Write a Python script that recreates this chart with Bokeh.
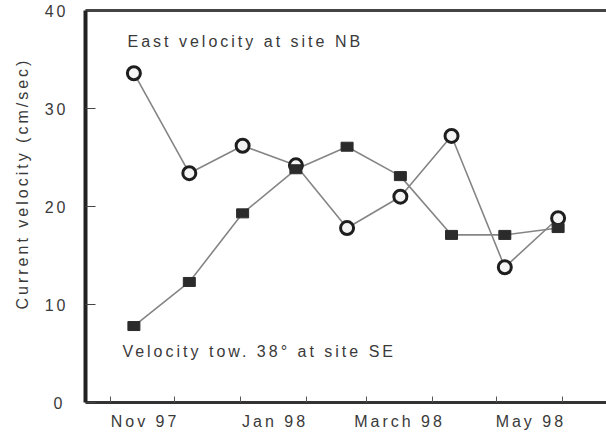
import pandas as pd
from bokeh.plotting import figure
from bokeh.models import FixedTicker, LinearAxis, Label, Range1d, InlineStyleSheet, Title
from bokeh.embed import file_html
from bokeh.resources import INLINE

# ---- data -------------------------------------------------------------
origin = "1997-11-01"
sample_dates = ["1997-11-12", "1997-12-08", "1998-01-02", "1998-01-27", "1998-02-20",
                "1998-03-17", "1998-04-10", "1998-05-05", "1998-05-30"]
east_nb = [33.6, 23.4, 26.2, 24.2, 17.8, 21.0, 27.2, 13.8, 18.8]
tow38_se = [7.8, 12.3, 19.3, 23.8, 26.1, 23.1, 17.1, 17.1, 17.8]

month_starts = ["1997-11-01", "1997-12-01", "1998-01-01", "1998-02-01", "1998-03-01",
                "1998-04-01", "1998-05-01", "1998-06-01"]
label_dates = ["1997-11-13", "1998-01-13", "1998-03-11", "1998-05-13"]
label_texts = ["Nov 97", "Jan 98", "March 98", "May 98"]
y_ticks = [0, 10, 20, 30, 40]


def days(lst):
    o = pd.Timestamp(origin)
    return [float((pd.Timestamp(s) - o).days) for s in lst]


x = days(sample_dates)
minor = days(month_starts)
major = days(label_dates)

FONT = "Liberation Sans"
TXT = "#3a3a3a"

p = figure(width=606, height=432, output_backend="svg", toolbar_location=None,
           x_range=Range1d(-11.7, 232.7), y_range=Range1d(0, 40),
           min_border_left=85, min_border_right=0, min_border_top=10, min_border_bottom=29)
p.stylesheets = [InlineStyleSheet(css=":host { letter-spacing: 3px; }")]
p.outline_line_color = None
p.outline_line_width = 0
p.xgrid.visible = False
p.ygrid.visible = False
p.background_fill_color = "white"
p.border_fill_color = "white"

# x axis
xa = p.xaxis[0]
xa.ticker = FixedTicker(ticks=major, minor_ticks=minor)
xa.major_label_overrides = {v: t for v, t in zip(major, label_texts)}
xa.major_tick_line_color = None
xa.minor_tick_in = 6
xa.minor_tick_out = 0
xa.minor_tick_line_color = "#555555"
xa.minor_tick_line_width = 1
xa.axis_line_width = 3
xa.axis_line_color = "#333333"
xa.major_label_standoff = 4
xa.major_label_text_font = FONT
xa.major_label_text_font_size = "16px"
xa.major_label_text_color = TXT

# y axis
ya = p.yaxis[0]
ya.ticker = FixedTicker(ticks=y_ticks)
ya.major_tick_in = 10
ya.major_tick_out = 0
ya.major_tick_line_color = "#444444"
ya.minor_tick_line_color = None
ya.axis_line_width = 4
ya.axis_line_color = "#222222"
ya.major_label_standoff = 23
ya.major_label_text_font = FONT
ya.major_label_text_font_size = "16px"
ya.major_label_text_color = TXT

# y axis title, as a side title so it can sit slightly above centre like the original
p.add_layout(Title(text="Current velocity (cm/sec)", align="left", offset=93,
                   text_font=FONT, text_font_size="16px", text_font_style="normal",
                   text_color=TXT, standoff=21), "left")

# top border
top = LinearAxis(ticker=FixedTicker(ticks=[]), major_tick_line_color=None,
                 minor_tick_line_color=None, major_label_text_font_size="0px",
                 major_label_standoff=0, axis_line_width=3, axis_line_color="#444444")
p.add_layout(top, "above")

# series
p.line(x, east_nb, line_color="#858585", line_width=1.6)
p.line(x, tow38_se, line_color="#858585", line_width=1.6)
p.scatter(x, east_nb, marker="circle", size=13, fill_color="#f4f4f4",
          line_color="#1e1e1e", line_width=3)
p.rect(x, tow38_se, width=12, height=9, width_units="screen", height_units="screen",
       fill_color="#2b2b2b", line_color="#2b2b2b", line_width=1)

p.add_layout(Label(x=8.0, y=36.8, text="East velocity at site NB", text_font=FONT,
                   text_font_size="16px", text_color=TXT, text_baseline="middle",
                   text_align="left"))
p.add_layout(Label(x=5.6, y=5.2, text="Velocity tow. 38\u00b0 at site SE", text_font=FONT,
                   text_font_size="16px", text_color=TXT, text_baseline="middle",
                   text_align="left"))

open("out.html", "w").write(file_html(p, INLINE))
